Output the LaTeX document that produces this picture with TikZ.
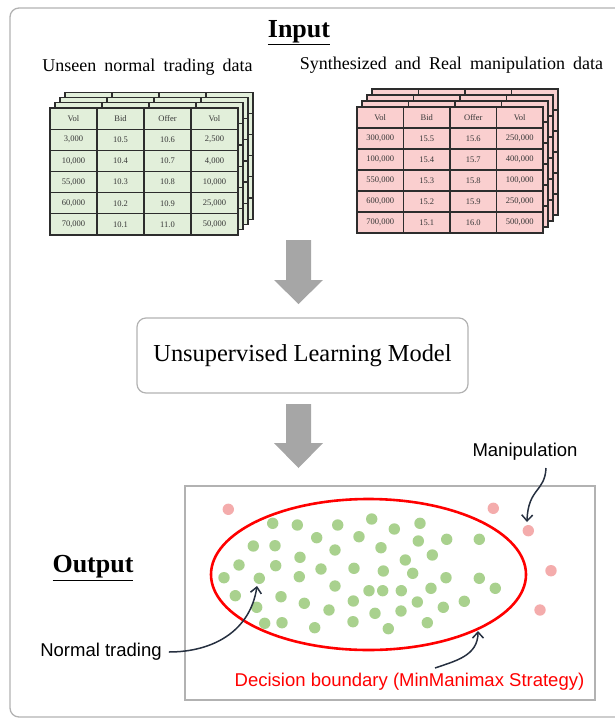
\documentclass[tikz,border=0pt]{standalone}
\usepackage{fontspec}
\setmainfont{Liberation Serif}
\setsansfont{Liberation Sans}
\usetikzlibrary{arrows.meta}
\definecolor{tgreen}{RGB}{226,239,218}
\definecolor{tpink}{RGB}{250,207,207}
\definecolor{dotgreen}{RGB}{169,209,142}
\definecolor{dotpink}{RGB}{244,172,172}
\definecolor{framegray}{RGB}{178,178,178}
\definecolor{arrowgray}{RGB}{166,166,166}
\definecolor{curvecol}{RGB}{38,48,64}
\definecolor{tlinecol}{RGB}{45,45,45}
\definecolor{celltextcol}{RGB}{55,55,55}
\tikzset{
  tline/.style={tlinecol, line width=1.2pt},
  celltext/.style={font=\fontsize{8.5}{9}\selectfont, text=celltextcol, inner sep=0pt},
  serifhead/.style={font=\fontsize{26}{28}\selectfont\bfseries, inner sep=1pt},
  seriflabel/.style={font=\fontsize{18}{20}\selectfont, inner sep=1pt},
  sanslabel/.style={font=\sffamily\fontsize{18.5}{20}\selectfont, inner sep=1pt},
  curvearrow/.style={curvecol, line width=1.5pt, -{Straight Barb[length=6pt,width=11pt,line width=1.5pt]}},
  blockarrow/.style={fill=arrowgray, draw=none},
  greendot/.style={fill=dotgreen},
  pinkdot/.style={fill=dotpink},
}
\newcommand\wsp{\hspace{0.45em}}
\newcommand\tablelayer[5]{%
  \fill[#3] (#1,#2) rectangle ({#1+4*#4},{#2+6*#5});
  \foreach \k in {1,2,3}{\draw[tline] ({#1+\k*#4},#2) -- ({#1+\k*#4},{#2+6*#5});}
  \foreach \k in {1,...,5}{\draw[tline] (#1,{#2+\k*#5}) -- ({#1+4*#4},{#2+\k*#5});}
  \draw[tline] (#1,#2) rectangle ({#1+4*#4},{#2+6*#5});
}
\newcommand\rowtext[8]{%
  \node[celltext] (#1a) at ({#2+0.5*#4},#3) {#5};
  \node[celltext] (#1b) at ({#2+1.5*#4},#3) {#6};
  \node[celltext] (#1c) at ({#2+2.5*#4},#3) {#7};
  \node[celltext] (#1d) at ({#2+3.5*#4},#3) {#8};
}
\begin{document}
\begin{tikzpicture}[x=1pt,y=-1pt]
\useasboundingbox (0,0) rectangle (615,718);
% outer frame
\draw[framegray, line width=1.3pt, rounded corners=9pt] (10,8) rectangle (640,717);

% titles
\node[serifhead] (input) at (299,33) {\underline{Input}};
\node[seriflabel] (lblnormal) at (147.5,67) {Unseen\wsp normal\wsp trading\wsp data};
\node[seriflabel] (lblmanip) at (451.5,65) {Synthesized\wsp and\wsp Real\wsp manipulation\wsp data};

% green table stack
\foreach \i in {3,2,1} {\tablelayer{50+5*\i}{108-5.3*\i}{tgreen}{47}{21.17}}
\tablelayer{50}{108}{tgreen}{47}{21.17}
\rowtext{gA}{50}{118.6}{47}{Vol}{Bid}{Offer}{Vol}
\rowtext{gB}{50}{139.8}{47}{3,000}{10.5}{10.6}{2,500}
\rowtext{gC}{50}{160.9}{47}{10,000}{10.4}{10.7}{4,000}
\rowtext{gD}{50}{182.1}{47}{55,000}{10.3}{10.8}{10,000}
\rowtext{gE}{50}{203.3}{47}{60,000}{10.2}{10.9}{25,000}
\rowtext{gF}{50}{224.4}{47}{70,000}{10.1}{11.0}{50,000}

% red table stack
\foreach \i in {3,2,1} {\tablelayer{357+5*\i}{107-6*\i}{tpink}{46.5}{21}}
\tablelayer{357}{107}{tpink}{46.5}{21}
\rowtext{rA}{357}{117.5}{46.5}{Vol}{Bid}{Offer}{Vol}
\rowtext{rB}{357}{138.5}{46.5}{300,000}{15.5}{15.6}{250,000}
\rowtext{rC}{357}{159.5}{46.5}{100,000}{15.4}{15.7}{400,000}
\rowtext{rD}{357}{180.5}{46.5}{550,000}{15.3}{15.8}{100,000}
\rowtext{rE}{357}{201.5}{46.5}{600,000}{15.2}{15.9}{250,000}
\rowtext{rF}{357}{222.5}{46.5}{700,000}{15.1}{16.0}{500,000}

% block arrows
\fill[blockarrow] (286,240) -- (311,240) -- (311,280) -- (323,280) -- (298.5,304) -- (274,280) -- (286,280) -- cycle;
\fill[blockarrow] (286,404) -- (311,404) -- (311,443) -- (323,443) -- (298.5,468) -- (274,443) -- (286,443) -- cycle;

% model box
\node[draw=framegray, line width=1.2pt, rounded corners=9pt, minimum width=331pt, minimum height=75pt,
      font=\fontsize{24.4}{26}\selectfont] (model) at (302.5,355.5) {Unsupervised Learning Model};

% output area
\node[serifhead] (output) at (93,568) {\underline{Output}};
\node[draw=framegray, line width=1.3pt, minimum width=410pt, minimum height=214pt, inner sep=0pt] (outbox) at (390,593) {};
\draw[red, line width=2.6pt] (368.5,574.5) ellipse [x radius=157.5, y radius=75.5];

% green dots
\foreach \px/\py in {272.7/523.3, 297.3/525, 337.7/525, 371.7/519, 394.3/529, 420/523.3,
  253.3/546, 275/545.7, 316.7/537.7, 359/536.7, 381/547.7, 418.3/541, 446.7/539.3, 479.3/539.3,
  239/565, 275.7/565.7, 300/557.3, 335/550, 405.3/560, 432.3/555,
  224/577.7, 259.3/578.3, 299.3/576.7, 321/569, 354/568.3, 383.3/571, 412.7/573.3, 446/577.7, 479.3/578.3, 495.3/588.3,
  235.3/595.7, 281/596.7, 335/586, 369/590.7, 382.7/590.7, 401.3/590.7, 431/588.3,
  256.7/607.3, 304.3/603.3, 353.3/601, 417.3/602, 443.3/607.3, 464.3/601.3,
  264.7/623.3, 282/622.7, 329/610, 375/613.3, 401/611,
  314.7/627.7, 353/621.7, 388.3/628.7, 427.3/622.7}
  {\fill[greendot] (\px,\py) circle[radius=5.7pt];}
% pink dots
\foreach \px/\py in {228.3/509.3, 493.3/508.3, 528.3/530.7, 551/570.7, 540/610}
  {\fill[pinkdot] (\px,\py) circle[radius=5.7pt];}

% labels and curved arrows
\node[sanslabel] (normaltr) at (101,652) {Normal trading};
\coordinate (normaltip) at (257,586);
\draw[curvearrow] (normaltr.east) ++(6,0) .. controls (212,652) and (250,632) .. (normaltip);

\node[sanslabel] (maniplbl) at (525,452) {Manipulation};
\coordinate (maniptip) at (527,522);
\coordinate (manipstart) at (546,468);
\draw[curvearrow] (manipstart) .. controls (545,492) and (528,488) .. (maniptip);

\node[sanslabel, text=red] (boundlbl) at (409.5,682) {Decision boundary (MinManimax Strategy)};
\coordinate (boundstart) at (435,668);
\coordinate (boundtip) at (478,631);
\draw[curvearrow] (boundstart) .. controls (455,661) and (478,656) .. (boundtip);
\end{tikzpicture}
\end{document}
